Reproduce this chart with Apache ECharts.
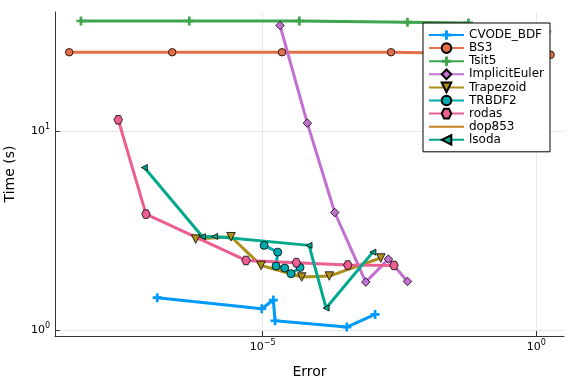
<!DOCTYPE html>
<html>
<head>
<meta charset="utf-8">
<script src="https://cdn.jsdelivr.net/npm/echarts@6/dist/echarts.min.js"></script>
<style>html,body{margin:0;padding:0;background:#fff}#c{width:576px;height:384px}</style>
</head>
<body>
<div id="c"></div>
<script>
// Values (Error, Time in seconds)
const seriesNames = ['CVODE_BDF','BS3','Tsit5','ImplicitEuler','Trapezoid','TRBDF2','rodas','dop853','lsoda'];
const cvodeErr = [1.18e-7, 9.6e-6, 1.56e-5, 1.68e-5, 3.44e-4, 1.13e-3];
const cvodeTime = [1.453, 1.279, 1.414, 1.113, 1.035, 1.197];
const bs3Err = [2.91e-9, 2.22e-7, 2.25e-5, 2.21e-3, 1.82];
const bs3Time = [24.8, 24.8, 24.8, 24.8, 24.1];
const tsitErr = [4.76e-9, 4.55e-7, 4.67e-5, 4.41e-3, 5.74e-2];
const tsitTime = [35.6, 35.6, 35.6, 35.1, 34.8];
const ieErr = [2.07e-5, 6.53e-5, 2.07e-4, 7.64e-4, 1.98e-3, 4.41e-3];
const ieTime = [33.8, 10.93, 3.89, 1.741, 2.27, 1.753];
const trapErr = [5.96e-7, 2.63e-6, 9.31e-6, 5.16e-5, 1.65e-4, 1.44e-3];
const trapTime = [2.86, 2.94, 2.11, 1.845, 1.866, 2.30];
const trbErr = [1.06e-5, 1.88e-5, 1.75e-5, 2.52e-5, 3.29e-5, 4.81e-5];
const trbTime = [2.66, 2.46, 2.095, 2.047, 1.917, 2.06];
const rodasErr = [2.29e-8, 7.36e-8, 4.95e-6, 4.11e-5, 3.58e-4, 2.51e-3];
const rodasTime = [11.36, 3.82, 2.234, 2.177, 2.12, 2.11];
const dopErr = [1.2e-2, 1.79, 1.28];
const dopTime = [31.5, 31.8, 27.0];
const lsodaErr = [6.86e-8, 7.92e-7, 1.32e-6, 7.02e-5, 1.44e-4, 1.03e-3];
const lsodaTime = [6.54, 2.94, 2.95, 2.66, 1.289, 2.46];
const xTicks = [1e-5, 1];
const yTicks = [1, 10];

const colors = ['#009AFA','#E36F47','#3EA44E','#C271D2','#AC8E18','#00A9AD','#ED5E93','#C68225','#00A98D'];
const FONT = 'DejaVu Sans';
const plus = 'path://M3.5,0H6.5V3.5H10V6.5H6.5V10H3.5V6.5H0V3.5H3.5Z';
const hexagon = 'path://M2.5,0.67L7.5,0.67L10,5L7.5,9.33L2.5,9.33L0,5Z';

function pairs(xs, ys){ return xs.map((x,i)=>[x, ys[i]]); }
const dataSets = [
  pairs(cvodeErr,cvodeTime), pairs(bs3Err,bs3Time), pairs(tsitErr,tsitTime),
  pairs(ieErr,ieTime), pairs(trapErr,trapTime), pairs(trbErr,trbTime),
  pairs(rodasErr,rodasTime), pairs(dopErr,dopTime), pairs(lsodaErr,lsodaTime)
];
const symbols = [
  {symbol: plus, size: 9, rot: 0, border: 0},
  {symbol: 'circle', size: 7.5, rot: 0, border: 0.8},
  {symbol: plus, size: 9, rot: 0, border: 0},
  {symbol: 'diamond', size: 8.5, rot: 0, border: 0.8},
  {symbol: 'triangle', size: 8.5, rot: 180, border: 0.8},
  {symbol: 'circle', size: 8, rot: 0, border: 0.8},
  {symbol: hexagon, size: 8.5, rot: 0, border: 0.8},
  {symbol: 'circle', size: 0, rot: 0, border: 0},
  {symbol: 'triangle', size: 6, rot: 90, border: 0.8}
];

function expLabel(v){
  const e = Math.round(Math.log10(v));
  const s = (e < 0 ? '\u2212' + (-e) : String(e));
  return '{b|10}{s|' + s + '}';
}
const richLbl = {
  b: {fontSize: 11, fontFamily: FONT, color: '#000'},
  s: {fontSize: 8, fontFamily: FONT, color: '#000', padding: [0,0,8,0]}
};

const series = seriesNames.map((n,i)=>({
  name: n, type: 'line', data: dataSets[i],
  symbol: symbols[i].symbol, symbolSize: symbols[i].size, symbolRotate: symbols[i].rot,
  showSymbol: symbols[i].size > 0,
  lineStyle: {width: 3, color: colors[i]},
  itemStyle: {color: colors[i], borderColor: '#000', borderWidth: symbols[i].border},
  animation: false, z: 2
}));

const legendData = seriesNames.map(n => n === 'dop853'
  ? {name: n, itemStyle: {opacity: 0}}
  : (n === 'lsoda' ? {name: n, itemStyle: {}} : {name: n}));

const chart = echarts.init(document.getElementById('c'), null, {renderer: 'canvas'});
chart.setOption({
  animation: false,
  color: colors,
  grid: {left: 55, top: 12, right: 12, bottom: 48, containLabel: false, outerBoundsMode: 'none'},
  xAxis: {
    type: 'log', logBase: 10, min: 1.6e-9, max: 3.2,
    name: 'Error', nameLocation: 'middle', nameGap: 29,
    nameTextStyle: {fontFamily: FONT, fontSize: 14, color: '#000'},
    axisLine: {show: true, onZero: false, lineStyle: {color: '#333', width: 1}},
    axisTick: {show: true, inside: true, length: 5, customValues: xTicks, lineStyle: {color: '#333'}},
    axisLabel: {customValues: xTicks, formatter: expLabel, rich: richLbl, margin: 3},
    splitLine: {show: true, lineStyle: {color: '#e8e8e8', width: 1}},
    minorTick: {show: false}, minorSplitLine: {show: false}
  },
  yAxis: {
    type: 'log', logBase: 10, min: 0.933, max: 39.5,
    name: 'Time (s)', nameLocation: 'middle', nameGap: 38, nameRotate: 90,
    nameTextStyle: {fontFamily: FONT, fontSize: 14, color: '#000'},
    axisLine: {show: true, onZero: false, lineStyle: {color: '#333', width: 1}},
    axisTick: {show: true, inside: true, length: 5, customValues: yTicks, lineStyle: {color: '#333'}},
    axisLabel: {customValues: yTicks, formatter: expLabel, rich: richLbl, margin: 5},
    splitLine: {show: true, lineStyle: {color: '#e8e8e8', width: 1}},
    minorTick: {show: false}, minorSplitLine: {show: false}
  },
  legend: {
    orient: 'vertical', left: 423, top: 23, z: 20,
    padding: [6, 6, 6, 5], itemGap: 1.1, itemWidth: 35, itemHeight: 12,
    backgroundColor: '#fff', borderColor: '#000', borderWidth: 1,
    textStyle: {fontFamily: FONT, fontSize: 12, color: '#000'},
    data: legendData
  },
  series: series
});
</script>
</body>
</html>
